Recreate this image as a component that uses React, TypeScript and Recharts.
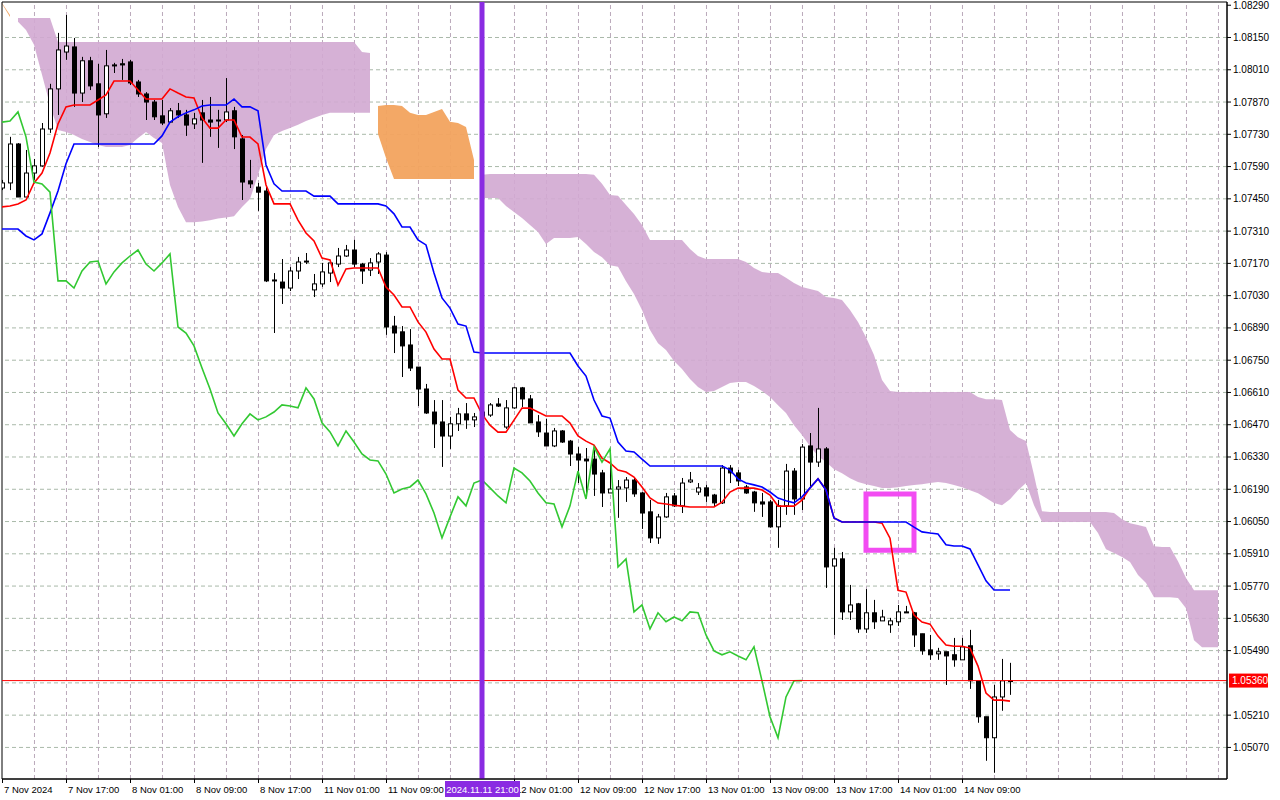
import React from "react";
import {
  ComposedChart,
  XAxis,
  YAxis,
  Bar,
  Line,
  Area,
  ReferenceLine,
  ReferenceArea,
} from "recharts";

// EURUSD H1, bar 0 = 7 Nov 2024 09:00, one bar per trading hour
const FONT = "'Liberation Sans', Arial, sans-serif";
const X_MAX = 153.125;
const Y_MIN = 1.04933;
const Y_MAX = 1.08304;

const opens = [
  1.07497, 1.07519, 1.07688, 1.07458, 1.07562, 1.07593, 1.07753, 1.07927, 1.08087, 1.08109,
  1.07909, 1.08049, 1.07949, 1.07819, 1.08031, 1.08036, 1.08044, 1.07957, 1.07905, 1.0787,
  1.0781, 1.07783, 1.07832, 1.07814, 1.07775, 1.07823, 1.07792, 1.07792, 1.07792, 1.07832,
  1.0771, 1.07528, 1.07501, 1.07484, 1.07098, 1.07089, 1.07063, 1.07137, 1.07176, 1.07055,
  1.07081, 1.07128, 1.07167, 1.07202, 1.07228, 1.07167, 1.07141, 1.07176, 1.07206, 1.06898,
  1.06873, 1.06816, 1.0672, 1.06625, 1.06525, 1.06482, 1.06421, 1.06474, 1.06517, 1.06491,
  1.06504, 1.06512, 1.0656, 1.0646, 1.06543, 1.0663, 1.06582, 1.06482, 1.06434, 1.06378,
  1.06443, 1.06399, 1.06343, 1.06321, 1.06321, 1.06261, 1.06174, 1.06191, 1.06196, 1.0623,
  1.06174, 1.06092, 1.05979, 1.0607, 1.06161, 1.06118, 1.06222, 1.06178, 1.06196, 1.06165,
  1.06131, 1.06282, 1.06261, 1.062, 1.06178, 1.06135, 1.06135, 1.06027, 1.06118, 1.06269,
  1.06148, 1.06378, 1.06308, 1.06365, 1.05857, 1.05888, 1.05658, 1.05693, 1.05584, 1.05654,
  1.05619, 1.05602, 1.05615, 1.05658, 1.05654, 1.05563, 1.05493, 1.05476, 1.05485, 1.05472,
  1.0545, 1.05511, 1.05359, 1.05203, 1.05112, 1.05289, 1.05359,
];

const highs = [
  1.07532, 1.07719, 1.07692, 1.07662, 1.07623, 1.07779, 1.07949, 1.0817, 1.08248, 1.08148,
  1.08066, 1.08066, 1.08036, 1.08096, 1.0804, 1.08057, 1.08053, 1.07966, 1.07913, 1.07879,
  1.07879, 1.07844, 1.07866, 1.07836, 1.07823, 1.07879, 1.07892, 1.07836, 1.07974, 1.07849,
  1.07727, 1.07619, 1.07519, 1.07501, 1.07128, 1.07189, 1.07154, 1.07198, 1.07215, 1.07124,
  1.07172, 1.07185, 1.07237, 1.0725, 1.07272, 1.07172, 1.07193, 1.07219, 1.07219, 1.06942,
  1.06898, 1.06885, 1.0672, 1.06647, 1.06577, 1.06577, 1.06504, 1.06543, 1.06564, 1.06521,
  1.06543, 1.06564, 1.06586, 1.06577, 1.06634, 1.06634, 1.06599, 1.06512, 1.06495, 1.06456,
  1.06447, 1.06404, 1.06373, 1.06369, 1.0636, 1.06274, 1.0636, 1.0623, 1.06243, 1.06243,
  1.06178, 1.06144, 1.06083, 1.06174, 1.06174, 1.06239, 1.06265, 1.06217, 1.06209, 1.0617,
  1.06295, 1.06295, 1.06274, 1.06209, 1.06183, 1.06174, 1.06144, 1.06144, 1.063, 1.06282,
  1.06386, 1.06434, 1.06543, 1.06373, 1.05936, 1.05918, 1.05775, 1.05697, 1.05757, 1.0571,
  1.05667, 1.05632, 1.05688, 1.05684, 1.05658, 1.05563, 1.05558, 1.05502, 1.05485, 1.05545,
  1.05545, 1.0558, 1.05359, 1.05203, 1.05341, 1.05454, 1.05437,
];

const lows = [
  1.07488, 1.07488, 1.07458, 1.07458, 1.07532, 1.07589, 1.07736, 1.07814, 1.08053, 1.07849,
  1.0787, 1.07922, 1.07675, 1.07801, 1.07996, 1.07966, 1.07944, 1.07892, 1.07792, 1.07792,
  1.0777, 1.07779, 1.07801, 1.07723, 1.07753, 1.07606, 1.07719, 1.07671, 1.07783, 1.07666,
  1.07445, 1.07497, 1.07398, 1.07089, 1.06868, 1.06994, 1.0705, 1.07102, 1.07167, 1.07024,
  1.07068, 1.07089, 1.07154, 1.07198, 1.07154, 1.07081, 1.07115, 1.07124, 1.0686, 1.06781,
  1.06677, 1.06703, 1.06551, 1.06517, 1.06369, 1.06287, 1.06365, 1.06443, 1.06452, 1.0646,
  1.06491, 1.06504, 1.06547, 1.06452, 1.06539, 1.06547, 1.06478, 1.06417, 1.06378, 1.06373,
  1.06391, 1.06291, 1.06217, 1.06152, 1.06161, 1.06113, 1.06174, 1.06066, 1.06135, 1.06157,
  1.06018, 1.05957, 1.05953, 1.06066, 1.06113, 1.06087, 1.06217, 1.06165, 1.06135, 1.06113,
  1.06126, 1.06217, 1.06204, 1.0617, 1.06092, 1.0607, 1.06023, 1.05936, 1.06079, 1.06079,
  1.061, 1.062, 1.06287, 1.05762, 1.05558, 1.05623, 1.05623, 1.05567, 1.05567, 1.05584,
  1.05619, 1.05567, 1.05597, 1.05654, 1.05506, 1.05472, 1.0545, 1.0545, 1.05341, 1.0542,
  1.0545, 1.05324, 1.05177, 1.05012, 1.0496, 1.05229, 1.05298,
];

const closes = [
  1.07519, 1.07688, 1.07458, 1.07562, 1.07593, 1.07753, 1.07927, 1.08096, 1.08113, 1.07909,
  1.08049, 1.0794, 1.07814, 1.08027, 1.08027, 1.08031, 1.07953, 1.07905, 1.0787, 1.07806,
  1.07779, 1.07832, 1.07814, 1.0777, 1.07797, 1.07792, 1.07783, 1.07788, 1.07827, 1.07719,
  1.07523, 1.07515, 1.07479, 1.07094, 1.07094, 1.07063, 1.07137, 1.07176, 1.0718, 1.07081,
  1.07133, 1.07172, 1.07202, 1.07228, 1.07167, 1.07137, 1.07172, 1.07211, 1.06894, 1.06868,
  1.06812, 1.06716, 1.06625, 1.06521, 1.06474, 1.06421, 1.06474, 1.06517, 1.06491, 1.06504,
  1.06525, 1.06556, 1.06551, 1.06543, 1.0663, 1.06582, 1.06478, 1.06439, 1.06378, 1.06443,
  1.06395, 1.06343, 1.06317, 1.06313, 1.06256, 1.06174, 1.06191, 1.062, 1.0623, 1.0617,
  1.06087, 1.05979, 1.0607, 1.06157, 1.06118, 1.06217, 1.0623, 1.06196, 1.06161, 1.06131,
  1.06282, 1.06261, 1.06226, 1.06174, 1.06131, 1.06126, 1.06027, 1.06118, 1.06269, 1.06148,
  1.06373, 1.06308, 1.06365, 1.05853, 1.05888, 1.05658, 1.05688, 1.05584, 1.05654, 1.05615,
  1.05636, 1.05619, 1.05658, 1.05654, 1.05558, 1.05489, 1.05472, 1.05485, 1.05467, 1.0545,
  1.05506, 1.05359, 1.05203, 1.05112, 1.05289, 1.05359, 1.0536,
];

const tenkan = [
  1.07415, 1.07419, 1.07428, 1.07445, 1.07519, 1.07562, 1.07649, 1.07775, 1.07849, 1.07857,
  1.07857, 1.07857, 1.07879, 1.07901, 1.07961, 1.07961, 1.07961, 1.07922, 1.07883, 1.07883,
  1.07883, 1.07927, 1.07909, 1.07892, 1.07888, 1.07801, 1.07757, 1.07757, 1.07792, 1.07792,
  1.07718, 1.07718, 1.07688, 1.0751, 1.07428, 1.07428, 1.07428, 1.07358, 1.07302, 1.07267,
  1.07193, 1.07185, 1.07076, 1.07146, 1.0715, 1.0715, 1.0715, 1.0715, 1.07067, 1.07033,
  1.06981, 1.06981, 1.06916, 1.06872, 1.06798, 1.06755, 1.06755, 1.0662, 1.06586, 1.06586,
  1.06516, 1.06468, 1.06438, 1.06438, 1.0649, 1.06542, 1.06542, 1.06525, 1.06508, 1.06508,
  1.06508, 1.06477, 1.06421, 1.06399, 1.06382, 1.06325, 1.06304, 1.06273, 1.06265, 1.06243,
  1.062, 1.06152, 1.0613, 1.06126, 1.06121, 1.06117, 1.06113, 1.06113, 1.06113, 1.06113,
  1.06134, 1.06178, 1.06195, 1.06195, 1.06195, 1.06187, 1.06165, 1.06117, 1.06117, 1.06117,
  1.06143, 1.06196, 1.06235, 1.06187, 1.06066, 1.06048, 1.06048, 1.06048, 1.06048, 1.06048,
  1.06043, 1.05978, 1.05752, 1.05744, 1.05644, 1.05614, 1.05605, 1.05553, 1.05514, 1.05509,
  1.05509, 1.05501, 1.05423, 1.05306, 1.05275, 1.05275, 1.05271,
];

const kijun = [
  1.07319, 1.07319, 1.07319, 1.07289, 1.07272, 1.07298, 1.07389, 1.07484, 1.07602, 1.07688,
  1.07688, 1.07688, 1.07688, 1.07688, 1.07688, 1.07688, 1.07688, 1.07688, 1.07688, 1.07688,
  1.07723, 1.07783, 1.07806, 1.07823, 1.07836, 1.07853, 1.07857, 1.07857, 1.07857, 1.07883,
  1.07849, 1.07849, 1.07832, 1.07597, 1.07515, 1.07484, 1.07484, 1.07484, 1.07484, 1.07462,
  1.07462, 1.07462, 1.07428, 1.07428, 1.07428, 1.07428, 1.07428, 1.07428, 1.07419, 1.07385,
  1.07328, 1.07328, 1.07272, 1.0725, 1.07128, 1.0702, 1.06976, 1.06907, 1.06898, 1.06785,
  1.06781, 1.06781, 1.06781, 1.06781, 1.06781, 1.06781, 1.06781, 1.06781, 1.06781, 1.06781,
  1.06781, 1.06781, 1.06725, 1.06681, 1.06577, 1.06508, 1.06499, 1.06395, 1.06356, 1.06352,
  1.06321, 1.06291, 1.06291, 1.06291, 1.06291, 1.06291, 1.06291, 1.06291, 1.06291, 1.06291,
  1.06291, 1.06274, 1.06235, 1.06217, 1.06209, 1.062, 1.06178, 1.06152, 1.0614, 1.06131,
  1.06157, 1.06196, 1.06235, 1.06187, 1.06066, 1.06048, 1.06048, 1.06048, 1.06048, 1.06048,
  1.06048, 1.06048, 1.06048, 1.06048, 1.06026, 1.06005, 1.06, 1.05996, 1.05949, 1.05944,
  1.05944, 1.05931, 1.05862, 1.05793, 1.05753, 1.05753, 1.05753,
];

// Senkou spans, already shifted 26 bars forward (153 bars incl. future)
const spanA = [
  1.083, 1.08248, 1.08218, 1.08183, 1.08118, 1.07988, 1.07857, 1.07749, 1.0774, 1.07727,
  1.0771, 1.07697, 1.07684, 1.07675, 1.07675, 1.07675, 1.07684, 1.07714, 1.0774, 1.07714,
  1.07692, 1.0751, 1.07415, 1.07348, 1.07348, 1.07352, 1.07357, 1.07365, 1.07369, 1.07374,
  1.07415, 1.07449, 1.07553, 1.07666, 1.07727, 1.07744, 1.07757, 1.07771, 1.07788, 1.07801,
  1.07814, 1.07823, 1.07823, 1.07823, 1.07823, 1.07823, 1.07823, 1.07853, 1.07857, 1.07857,
  1.07853, 1.07823, 1.07814, 1.07814, 1.07827, 1.0784, 1.07784, 1.07779, 1.07762, 1.07619,
  1.07454, 1.07454, 1.07454, 1.07419, 1.07393, 1.07367, 1.07337, 1.07306, 1.07254, 1.0728,
  1.0728, 1.0728, 1.07284, 1.07254, 1.07219, 1.07197, 1.07162, 1.07155, 1.07093, 1.07037,
  1.06968, 1.06881, 1.06824, 1.06794, 1.06746, 1.06712, 1.06668, 1.06634, 1.06612, 1.06616,
  1.06634, 1.06651, 1.06655, 1.06655, 1.06638, 1.06616, 1.0659, 1.06555, 1.06521, 1.06468,
  1.06425, 1.06377, 1.06334, 1.06308, 1.06277, 1.0626, 1.06238, 1.06221, 1.06212, 1.06204,
  1.06195, 1.06195, 1.06199, 1.06204, 1.06208, 1.06212, 1.06217, 1.06221, 1.06217, 1.06208,
  1.06199, 1.06186, 1.06173, 1.06152, 1.0613, 1.06121, 1.06147, 1.06186, 1.06217, 1.06121,
  1.06048, 1.06048, 1.06048, 1.06048, 1.06048, 1.06048, 1.06048, 1.06, 1.0593, 1.05913,
  1.05896, 1.05874, 1.05818, 1.05783, 1.05722, 1.05722, 1.05722, 1.05718, 1.05674, 1.05535,
  1.05505, 1.05505, 1.05505,
];

const spanB = [
  1.08296, 1.08239, 1.08235, 1.08235, 1.08235, 1.08235, 1.08235, 1.08131, 1.08131, 1.08131,
  1.08131, 1.08131, 1.08131, 1.08131, 1.08131, 1.08131, 1.08131, 1.08131, 1.08131, 1.08131,
  1.08131, 1.08131, 1.08131, 1.08131, 1.08131, 1.08131, 1.08131, 1.08131, 1.08131, 1.08131,
  1.08131, 1.08131, 1.08131, 1.08131, 1.08131, 1.08131, 1.08131, 1.08131, 1.08131, 1.08131,
  1.08131, 1.08131, 1.08131, 1.08131, 1.08131, 1.08087, 1.08083, 1.07731, 1.07627, 1.07536,
  1.07536, 1.07536, 1.07536, 1.07536, 1.07536, 1.07536, 1.07536, 1.07536, 1.07536, 1.07536,
  1.07554, 1.07558, 1.07558, 1.07558, 1.07558, 1.07558, 1.07558, 1.07558, 1.07558, 1.07558,
  1.07558, 1.07558, 1.07558, 1.07558, 1.07554, 1.07515, 1.07467, 1.07463, 1.07423, 1.07384,
  1.07337, 1.07271, 1.07271, 1.07271, 1.07271, 1.07271, 1.07232, 1.07202, 1.07189, 1.07189,
  1.07189, 1.07189, 1.07189, 1.07176, 1.0715, 1.07133, 1.07128, 1.07128, 1.07108, 1.07085,
  1.07067, 1.07059, 1.0705, 1.07024, 1.0702, 1.07011, 1.06968, 1.06916, 1.0685, 1.06772,
  1.06664, 1.06616, 1.06612, 1.06612, 1.06612, 1.06612, 1.06612, 1.06612, 1.06612, 1.06612,
  1.06612, 1.06612, 1.0659, 1.06581, 1.06581, 1.06577, 1.06447, 1.06416, 1.06399, 1.06252,
  1.06095, 1.06091, 1.06091, 1.06091, 1.06091, 1.06091, 1.06091, 1.06091, 1.06091, 1.06087,
  1.0606, 1.06043, 1.06035, 1.06026, 1.05943, 1.05939, 1.05939, 1.05878, 1.05805, 1.05752,
  1.05752, 1.05752, 1.05752,
];

// the 11 Nov 17:00 label sits under the cursor tag, so it is left out
const timeTicks = [0, 8, 16, 24, 32, 40, 48, 64, 72, 80, 88, 96, 104, 112, 120];
const timeLabels = [
  "7 Nov 2024", "7 Nov 17:00", "8 Nov 01:00", "8 Nov 09:00", "8 Nov 17:00",
  "11 Nov 01:00", "11 Nov 09:00", "12 Nov 01:00", "12 Nov 09:00",
  "12 Nov 17:00", "13 Nov 01:00", "13 Nov 09:00", "13 Nov 17:00", "14 Nov 01:00",
  "14 Nov 09:00",
];
const priceTicks = [
  1.0507, 1.0521, 1.0549, 1.0563, 1.0577, 1.0591, 1.0605, 1.0619, 1.0633, 1.0647,
  1.0661, 1.0675, 1.0689, 1.0703, 1.0717, 1.0731, 1.0745, 1.0759, 1.0773, 1.0787,
  1.0801, 1.0815, 1.0829,
];
const gridPrices = [
  1.0507, 1.0521, 1.0535, 1.0549, 1.0563, 1.0577, 1.0591, 1.0605, 1.0619, 1.0633,
  1.0647, 1.0661, 1.0675, 1.0689, 1.0703, 1.0717, 1.0731, 1.0745, 1.0759, 1.0773,
  1.0787, 1.0801, 1.0815,
];
const lastPrice = 1.0536;
const cursorBar = 60;
const cursorLabel = "2024.11.11 21:00";
const markBox = { x1: 108, x2: 114, lo: 1.05925, hi: 1.0617 };

const gridBars = Array.from({ length: 38 }, (_, k) => (k + 1) * 4);

const rows = spanA.map((a, i) => {
  const b = spanB[i];
  const has = i < closes.length;
  return {
    i,
    o: has ? opens[i] : null,
    h: has ? highs[i] : null,
    l: has ? lows[i] : null,
    c: has ? closes[i] : null,
    range: has ? [lows[i], highs[i]] : null,
    tenkan: has ? tenkan[i] : null,
    kijun: has ? kijun[i] : null,
    chikou: i + 26 < closes.length ? closes[i + 26] : null,
    cloudUp: a > b ? [b, a] : null,
    cloudDown: a <= b ? [a, b] : null,
  };
});

function Candle(props: any) {
  const { x, y, width, height, payload } = props;
  if (payload == null || payload.o == null) return null;
  const { o, h, l, c } = payload;
  const cx = Math.round(x + width / 2) + 0.5;
  const py = (p: number) => (h === l ? y : y + ((h - p) / (h - l)) * height);
  const top = py(Math.max(o, c));
  const bot = py(Math.min(o, c));
  const up = c >= o;
  return (
    <g>
      <line x1={cx} x2={cx} y1={y} y2={y + height} stroke="#000" />
      <rect
        x={cx - 2}
        y={top}
        width={4}
        height={Math.max(bot - top, 1)}
        fill={up ? "#fff" : "#000"}
        stroke="#000"
      />
    </g>
  );
}

// time labels hang under the plot from an invisible reference line
function TimeTag(props: any) {
  const { x, y, height } = props.viewBox;
  const base = y + height;
  return (
    <g>
      <line x1={x + 0.5} x2={x + 0.5} y1={base} y2={base + 4} stroke="#000" />
      <text x={x + 2} y={base + 14} fontSize={9.5} fontFamily={FONT} fill="#000">
        {props.text}
      </text>
    </g>
  );
}

function PriceTick(props: any) {
  const { x, y, payload } = props;
  return (
    <g>
      <line x1={x} x2={x + 4} y1={y} y2={y} stroke="#000" />
      <text x={x + 6} y={y + 3.5} fontSize={10} fontFamily={FONT} fill="#000">
        {payload.value.toFixed(5)}
      </text>
    </g>
  );
}

function PriceTag(props: any) {
  const { x, y, width } = props.viewBox;
  const left = x + width + 2;
  return (
    <g>
      <rect x={left} y={y - 7} width={39} height={14} fill="#ff0000" />
      <text x={left + 3} y={y + 3.5} fontSize={10} fontFamily={FONT} fill="#fff">
        {lastPrice.toFixed(5)}
      </text>
    </g>
  );
}

function CursorTag(props: any) {
  const { x, y, height } = props.viewBox;
  const top = y + height + 2;
  return (
    <g>
      <rect x={x - 37} y={top} width={75} height={16} fill="#8a2be2" />
      <text
        x={x + 0.5}
        y={top + 11.5}
        textAnchor="middle"
        fontSize={9.5}
        fontFamily={FONT}
        fill="#fff"
      >
        {cursorLabel}
      </text>
    </g>
  );
}

export default function App() {
  return (
    <div style={{ width: 1280, height: 800, background: "#fff" }}>
      <style>{"body{margin:0;background:#fff}"}</style>
      <ComposedChart
        width={1280}
        height={800}
        data={rows}
        margin={{ top: 2, right: 0, bottom: 0, left: 2 }}
      >
        <XAxis
          dataKey="i"
          type="number"
          domain={[0, X_MAX]}
          allowDataOverflow
          ticks={timeTicks}
          height={21}
          tick={false}
          tickLine={false}
          axisLine={{ stroke: "#000" }}
        />
        <YAxis
          orientation="right"
          type="number"
          domain={[Y_MIN, Y_MAX]}
          allowDataOverflow
          ticks={priceTicks}
          interval={0}
          width={53}
          tickSize={0}
          tickMargin={0}
          tickLine={false}
          axisLine={{ stroke: "#000" }}
          tick={<PriceTick />}
        />

        {gridPrices.map((p) => (
          <ReferenceLine
            key={"h" + p}
            y={p}
            stroke="#a9b9a9"
            strokeDasharray="4 3"
            zIndex={-100}
          />
        ))}
        {gridBars.map((b) => (
          <ReferenceLine
            key={"v" + b}
            x={b + 0.06}
            stroke="#bba9bb"
            strokeDasharray="4 3"
            zIndex={-100}
          />
        ))}

        <Area
          dataKey="cloudDown"
          type="linear"
          stroke="none"
          fill="#d2a8d2"
          fillOpacity={0.9}
          dot={false}
          activeDot={false}
          isAnimationActive={false}
        />
        <Area
          dataKey="cloudUp"
          type="linear"
          stroke="none"
          fill="#f2a35e"
          fillOpacity={0.95}
          dot={false}
          activeDot={false}
          isAnimationActive={false}
        />

        <Bar dataKey="range" barSize={5} shape={<Candle />} isAnimationActive={false} />

        <Line
          dataKey="tenkan"
          type="linear"
          stroke="#ff0000"
          strokeWidth={1.6}
          dot={false}
          activeDot={false}
          isAnimationActive={false}
        />
        <Line
          dataKey="kijun"
          type="linear"
          stroke="#0000ff"
          strokeWidth={1.6}
          dot={false}
          activeDot={false}
          isAnimationActive={false}
        />
        <Line
          dataKey="chikou"
          type="linear"
          stroke="#32c832"
          strokeWidth={1.6}
          dot={false}
          activeDot={false}
          isAnimationActive={false}
        />

        {timeTicks.map((t, k) => (
          <ReferenceLine
            key={"t" + t}
            x={t}
            stroke="none"
            label={(p: any) => <TimeTag {...p} text={timeLabels[k]} />}
          />
        ))}

        <ReferenceLine y={lastPrice} stroke="#ff0000" label={(p: any) => <PriceTag {...p} />} />
        <ReferenceLine
          x={cursorBar}
          stroke="#8a2be2"
          strokeWidth={5}
          label={(p: any) => <CursorTag {...p} />}
        />
        <ReferenceArea
          x1={markBox.x1}
          x2={markBox.x2}
          y1={markBox.lo}
          y2={markBox.hi}
          fill="none"
          stroke="#f24cf2"
          strokeWidth={5}
        />
        <ReferenceArea
          x1={0}
          x2={X_MAX}
          y1={Y_MIN}
          y2={Y_MAX}
          fill="none"
          stroke="#000"
        />
      </ComposedChart>
    </div>
  );
}
